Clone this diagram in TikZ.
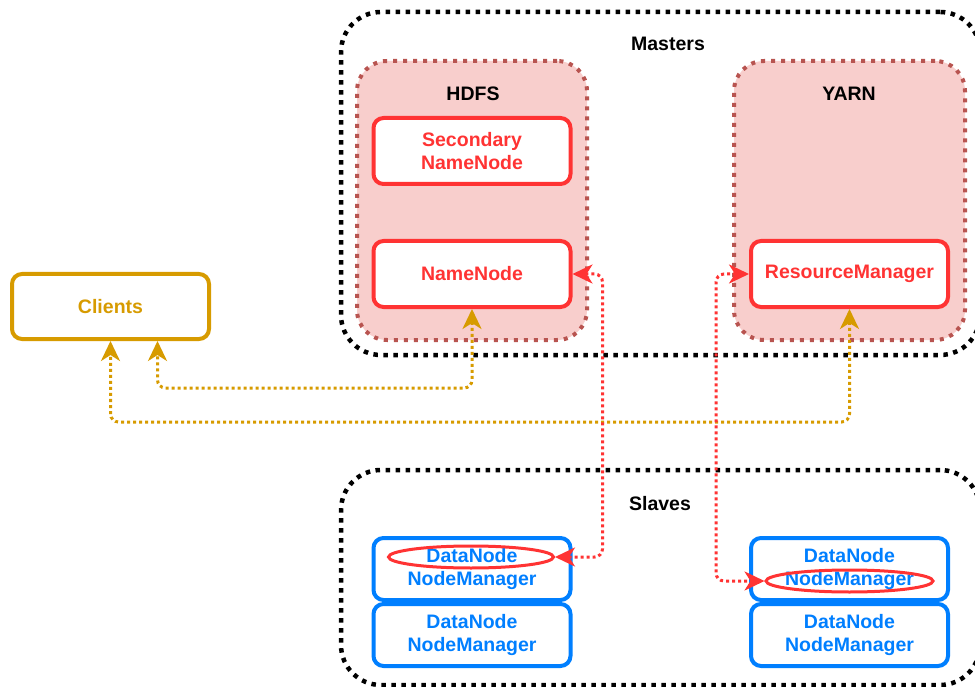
\documentclass[tikz,border=0pt]{standalone}
\usepackage{fontspec}
\setmainfont{Liberation Sans}
\usetikzlibrary{arrows.meta,shapes.geometric}

\definecolor{hgold}{HTML}{D79B00}
\definecolor{hred}{HTML}{FF3333}
\definecolor{hpink}{HTML}{F8CECC}
\definecolor{hbrown}{HTML}{B85450}
\definecolor{hblue}{HTML}{007FFF}

\tikzset{
  every node/.style={font=\fontsize{19.5}{23.5}\selectfont\bfseries, inner sep=0pt},
  groupbox/.style={draw=black, line width=4.5pt, dash pattern=on 4.5pt off 5.5pt,
    rounded corners=40pt, rectangle},
  layerbox/.style={draw=hbrown, fill=hpink, line width=4pt, dash pattern=on 4pt off 6pt,
    rounded corners=30pt, rectangle, minimum width=230pt, minimum height=279pt},
  masterbox/.style={draw=hred, fill=white, text=hred, line width=4pt, rounded corners=10pt,
    rectangle, minimum width=197pt, minimum height=66pt, align=center},
  clientbox/.style={draw=hgold, fill=white, text=hgold, line width=4pt, rounded corners=10pt,
    rectangle, minimum width=197pt, minimum height=65pt},
  slavebox/.style={draw=hblue, fill=white, text=hblue, line width=4pt, rounded corners=10pt,
    rectangle, minimum width=197pt, minimum height=62pt, align=center},
  mark ring/.style={draw=hred, line width=3pt, ellipse, minimum height=22pt},
  tiphead/.style={Stealth[length=20pt,width=19pt,inset=6pt]},
  tipboth/.style={{Stealth[length=20pt,width=19pt,inset=6pt]}-{Stealth[length=20pt,width=19pt,inset=6pt]}},
  goldlink/.style={draw=hgold, line width=3pt, dash pattern=on 3pt off 3pt,
    rounded corners=8pt, tipboth},
  redlink/.style={draw=hred, line width=3pt, dash pattern=on 3pt off 3pt,
    rounded corners=8pt, tipboth},
}

\begin{document}
\begin{tikzpicture}[x=1pt, y=-1pt]
  \useasboundingbox (0,0) rectangle (975,687);

  % cluster groups
  \node[groupbox, minimum width=639pt, minimum height=343pt] (masters) at (660.5,183.5) {};
  \node (masterstitle) at (668,43.5) {Masters};
  \node[groupbox, minimum width=639pt, minimum height=215pt] (slaves) at (660.5,577.5) {};
  \node (slavestitle) at (660,503.5) {Slaves};

  % master services
  \node[layerbox] (hdfs) at (472,200.5) {};
  \node (hdfstitle) at (473,93.5) {HDFS};
  \node[layerbox, minimum width=231pt] (yarn) at (849.5,200.5) {};
  \node (yarntitle) at (849,93.5) {YARN};

  \node[masterbox] (snn) at (472,151) {Secondary\\NameNode};
  \node[masterbox] (nn) at (472,274) {NameNode};
  \node[masterbox] (rm) at (849.5,274) {ResourceManager};

  % clients
  \node[clientbox] (clients) at (110.5,306.5) {Clients};

  % worker nodes
  \node[slavebox] (w1) at (472,569) {DataNode\\NodeManager};
  \node[slavebox] (w2) at (472,635) {DataNode\\NodeManager};
  \node[slavebox] (w3) at (849.5,569) {DataNode\\NodeManager};
  \node[slavebox] (w4) at (849.5,635) {DataNode\\NodeManager};

  \node[mark ring, minimum width=165pt] (dnring) at (471,557) {};
  \node[mark ring, minimum width=167pt] (nmring) at (849.5,581) {};

  % client connections
  \coordinate (clientsB) at ([xshift=47pt]clients.south);
  \draw[goldlink] (nn.south) -- ++(0,79) -| (clientsB);
  \draw[goldlink] (rm.south) -- ++(0,113) -| (clients.south);

  % master to worker connections
  \draw[redlink] (nn.east) -- ++(30,0) |- (dnring.east);
  \draw[redlink] (rm.west) -- ++(-33,0) |- (nmring.west);
\end{tikzpicture}
\end{document}
